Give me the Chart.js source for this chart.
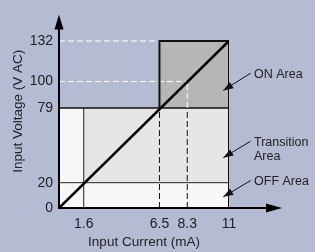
<!DOCTYPE html>
<html><head><meta charset="utf-8">
<script src="https://cdn.jsdelivr.net/npm/chart.js@4/dist/chart.umd.min.js"></script>
<style>html,body{margin:0;padding:0;background:#b4bbd3;}canvas{display:block;}</style>
</head><body>
<canvas id="c" width="315" height="252"></canvas>
<script>
// ---- data ----
const currentTicks = [1.6, 6.5, 8.3, 11];
const voltageTicks = [0, 20, 79, 100, 132];
const currentOff = 1.6, currentOn = 6.5, currentTyp = 8.3, currentMax = 11;
const voltageOff = 20, voltageOn = 79, voltageTyp = 100, voltageMax = 132;
const characteristicCurrent = [0, 11];
const characteristicVoltage = [0, 132];
const areaLabels = [['ON Area'], ['Transition', 'Area'], ['OFF Area']];

// ---- layout / style (not data) ----
const BG = 'rgb(180,187,211)';
const FONT = '"Liberation Sans", Arial, sans-serif';
const TXT = '#222';
const axisEndCurrent = 14.43;   // arrow tip of x axis (axis extent)
const yAxisMax = 153;           // arrow tip of y axis (axis extent)
const annotationPlacement = [
  {tx: 12.62, ty: 105.6, from: [12.40, 106.6], to: [10.63, 92.9]},
  {tx: 12.62, ty: 52.0,  from: [12.40, 52.8],  to: [10.63, 39.8]},
  {tx: 12.62, ty: 21.0,  from: [12.40, 21.7],  to: [10.63, 8.8]}
];

const pt = (x, y) => ({x, y});
const noPt = {pointRadius: 0, pointHoverRadius: 0, showLine: true, tension: 0};

const datasets = [
  // fills
  Object.assign({data: [pt(0, voltageOn), pt(currentMax, voltageOn)], fill: 'origin',
    backgroundColor: 'rgb(230,230,230)', borderWidth: 0, order: 20}, noPt),
  Object.assign({data: [pt(0, voltageOn), pt(currentOff, voltageOn)], fill: 'origin',
    backgroundColor: 'rgb(248,248,248)', borderWidth: 0, order: 19}, noPt),
  Object.assign({data: [pt(0, voltageOff), pt(currentMax, voltageOff)], fill: 'origin',
    backgroundColor: 'rgb(248,248,248)', borderWidth: 0, order: 18}, noPt),
  Object.assign({data: [pt(currentOn, voltageMax), pt(currentMax, voltageMax)], fill: {value: voltageOn},
    backgroundColor: 'rgb(182,182,182)', borderWidth: 0, order: 17}, noPt),
  // thin boundary lines
  Object.assign({data: [pt(0, voltageOn), pt(currentMax, voltageOn)], borderColor: '#111', borderWidth: 1.5, fill: false, order: 10}, noPt),
  Object.assign({data: [pt(0, voltageOff), pt(currentMax, voltageOff)], borderColor: '#222', borderWidth: 1, fill: false, order: 10}, noPt),
  Object.assign({data: [pt(currentOff, 0), pt(currentOff, voltageOn)], borderColor: '#222', borderWidth: 1, fill: false, order: 10}, noPt),
  // dashed guides
  Object.assign({data: [pt(0, voltageMax), pt(currentOn, voltageMax)], borderColor: '#fff', borderWidth: 1, borderDash: [6, 3], fill: false, order: 9}, noPt),
  Object.assign({data: [pt(0, voltageTyp), pt(currentTyp, voltageTyp)], borderColor: '#fff', borderWidth: 1, borderDash: [6, 3], fill: false, order: 9}, noPt),
  Object.assign({data: [pt(currentTyp, voltageOn), pt(currentTyp, voltageTyp)], borderColor: '#fff', borderWidth: 1, borderDash: [6, 3], fill: false, order: 9}, noPt),
  Object.assign({data: [pt(currentOn, 0), pt(currentOn, voltageOn)], borderColor: '#111', borderWidth: 1, borderDash: [6, 3], fill: false, order: 9}, noPt),
  Object.assign({data: [pt(currentTyp, 0), pt(currentTyp, voltageOn)], borderColor: '#111', borderWidth: 1, borderDash: [6, 3], fill: false, order: 9}, noPt),
  // ON area border
  Object.assign({data: [pt(currentOn, voltageOn), pt(currentOn, voltageMax), pt(currentMax, voltageMax), pt(currentMax, 0)],
    borderColor: '#111', borderWidth: 2, fill: false, order: 5}, noPt),
  // characteristic diagonal
  Object.assign({data: characteristicCurrent.map((c, i) => pt(c, characteristicVoltage[i])),
    borderColor: '#000', borderWidth: 2.6, fill: false, order: 1}, noPt)
];

function arrowHead(ctx, x1, y1, x2, y2, len, half) {
  const a = Math.atan2(y2 - y1, x2 - x1), c = Math.cos(a), s = Math.sin(a);
  ctx.beginPath();
  ctx.moveTo(x2, y2);
  ctx.lineTo(x2 - len * c + half * s, y2 - len * s - half * c);
  ctx.lineTo(x2 - len * c - half * s, y2 - len * s + half * c);
  ctx.closePath();
  ctx.fill();
}

const bgPlugin = {
  id: 'bg',
  beforeDraw(chart) {
    const ctx = chart.ctx;
    ctx.save(); ctx.fillStyle = BG; ctx.fillRect(0, 0, chart.width, chart.height); ctx.restore();
  }
};

const axesPlugin = {
  id: 'axesArrows',
  afterDraw(chart) {
    const {ctx, scales: {x, y}} = chart;
    const x0 = x.getPixelForValue(0), y0 = y.getPixelForValue(0);
    const xTip = x.getPixelForValue(axisEndCurrent), yTip = y.getPixelForValue(yAxisMax);
    ctx.save();
    ctx.strokeStyle = '#000'; ctx.fillStyle = '#000'; ctx.lineWidth = 2;
    ctx.beginPath(); ctx.moveTo(x0, y0 + 1); ctx.lineTo(x0, yTip + 8); ctx.stroke();
    arrowHead(ctx, x0, y0, x0, yTip, 15, 4.5);
    ctx.beginPath(); ctx.moveTo(x0 - 1, y0); ctx.lineTo(xTip - 8, y0); ctx.stroke();
    arrowHead(ctx, x0, y0, xTip, y0, 16, 4.5);

    // area annotations
    ctx.lineWidth = 1; ctx.strokeStyle = '#111';
    annotationPlacement.forEach((a, i) => {
      const fx = x.getPixelForValue(a.from[0]), fy = y.getPixelForValue(a.from[1]);
      const tx = x.getPixelForValue(a.to[0]), ty = y.getPixelForValue(a.to[1]);
      ctx.fillStyle = '#111';
      ctx.beginPath(); ctx.moveTo(fx, fy); ctx.lineTo(tx, ty); ctx.stroke();
      arrowHead(ctx, fx, fy, tx, ty, 10, 3.6);
      ctx.fillStyle = TXT;
      ctx.font = '12.5px ' + FONT; ctx.textAlign = 'left'; ctx.textBaseline = 'middle';
      areaLabels[i].forEach((line, j) => {
        ctx.fillText(line, x.getPixelForValue(a.tx), y.getPixelForValue(a.ty) + j * 14);
      });
    });
    ctx.restore();
  }
};

new Chart(document.getElementById('c'), {
  type: 'scatter',
  data: {datasets},
  options: {
    responsive: false,
    animation: false,
    devicePixelRatio: 1,
    layout: {padding: {top: 11, right: 86, left: 0, bottom: 0}},
    plugins: {legend: {display: false}, tooltip: {enabled: false}},
    scales: {
      x: {
        type: 'linear', min: 0, max: currentMax,
        grid: {display: false, drawTicks: false}, border: {display: false},
        afterBuildTicks: s => { s.ticks = currentTicks.map(v => ({value: v})); },
        afterFit: s => { s.height = 44; },
        ticks: {color: TXT, font: {family: FONT, size: 14}, padding: 8, maxRotation: 0, autoSkip: false,
          callback: v => String(v)},
        title: {display: true, text: 'Input Current (mA)', color: TXT, font: {family: FONT, size: 13.5},
          padding: {top: 0, bottom: 2}}
      },
      y: {
        type: 'linear', min: 0, max: yAxisMax,
        grid: {display: false, drawTicks: false}, border: {display: false},
        afterBuildTicks: s => { s.ticks = voltageTicks.map(v => ({value: v})); },
        afterFit: s => { s.width = 59; },
        ticks: {color: TXT, font: {family: FONT, size: 14}, padding: 6, autoSkip: false,
          callback: v => String(v)},
        title: {display: true, text: 'Input Voltage (V AC)', color: TXT, font: {family: FONT, size: 13.5},
          padding: {top: 10, bottom: 0}}
      }
    }
  },
  plugins: [bgPlugin, axesPlugin]
});
</script>
</body></html>
